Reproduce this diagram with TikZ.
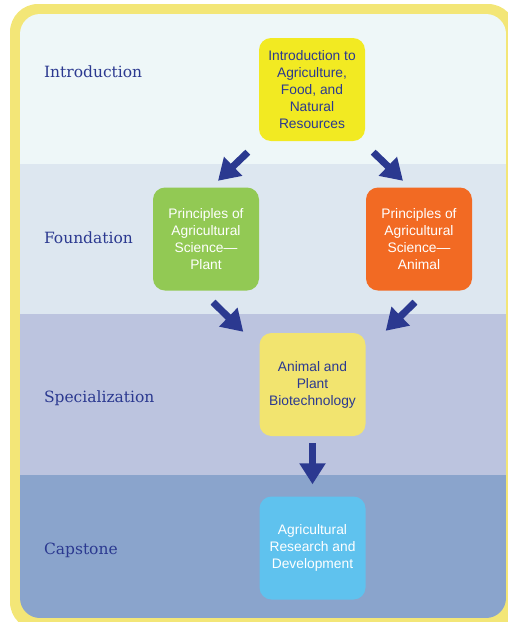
\documentclass[tikz,border=0pt]{standalone}
\usepackage{fontspec}
\setmainfont{DejaVu Serif}
\newfontfamily\boxfont{Liberation Sans}
\usetikzlibrary{arrows.meta}

\definecolor{ink}{HTML}{2B3990}
\definecolor{frame}{HTML}{F3E677}
\definecolor{bandintro}{HTML}{EEF7F8}
\definecolor{bandfound}{HTML}{DDE7F0}
\definecolor{bandspec}{HTML}{BCC4DF}
\definecolor{bandcap}{HTML}{8AA4CC}
\definecolor{introyellow}{HTML}{F2EA22}
\definecolor{plantgreen}{HTML}{92C954}
\definecolor{animalorange}{HTML}{F26A23}
\definecolor{biopale}{HTML}{F2E46F}
\definecolor{researchblue}{HTML}{5FC2EE}

\begin{document}
\begin{tikzpicture}[
              x = 1pt, y = -1pt,
              level/.style = {font=\fontsize{15.5}{18}\selectfont, text=ink, anchor=west},
              course/.style = {rectangle, rounded corners=12pt, minimum width=106pt,
                               minimum height=103pt, inner sep=0pt, align=center,
                               font=\boxfont\fontsize{13.8}{17}\selectfont},
              flow/.style = {-{Triangle[length=21pt,width=25pt]}, line width=7pt, draw=ink}
            ]
            \useasboundingbox (0,0) rectangle (508,622);
            \clip (0,0) rectangle (508,622);
            % frame and bands
            \fill[frame, rounded corners=28pt] (10,4) rectangle (516,630);
            \begin{scope}
              \clip[rounded corners=20pt] (20,14) rectangle (506,618);
              \fill[bandintro] (20,14) rectangle (506,164);
              \fill[bandfound] (20,164) rectangle (506,314);
              \fill[bandspec] (20,314) rectangle (506,475);
              \fill[bandcap] (20,475) rectangle (506,618);
            \end{scope}
            \node[level] (lintro) at (40.5,72) {Introduction};
            \node[level] (lfound) at (40.5,238) {Foundation};
            \node[level] (lspec) at (40.5,398) {Specialization};
            \node[level] (lcap) at (40.5,550) {Capstone};
            % courses
            \node[course, fill=introyellow, text=ink] (intro) at (312,89.5)
              {Introduction to\\Agriculture,\\Food, and\\Natural\\Resources};
            \node[course, fill=plantgreen, text=white] (plant) at (206,239)
              {Principles of\\Agricultural\\Science—\\Plant};
            \node[course, fill=animalorange, text=white] (animal) at (419,239)
              {Principles of\\Agricultural\\Science—\\Animal};
            \node[course, fill=biopale, text=ink] (biotech) at (312.5,384.5)
              {Animal and\\Plant\\Biotechnology};
            \node[course, fill=researchblue, text=white] (research) at (312.5,548)
              {Agricultural\\Research and\\Development};
            % arrows
            \draw[flow] ([xshift=-11pt,yshift=-11pt]intro.south west) -- ([xshift=12pt,yshift=6.5pt]plant.north);
            \draw[flow] ([xshift=8pt,yshift=-11pt]intro.south east) -- ([xshift=-16pt,yshift=6.5pt]animal.north);
            \draw[flow] ([xshift=7pt,yshift=-11.5pt]plant.south) -- ([xshift=-16pt,yshift=1pt]biotech.north west);
            \draw[flow] ([xshift=-4pt,yshift=-11.5pt]animal.south) -- ([xshift=20pt,yshift=2pt]biotech.north east);
            \draw[flow] ([yshift=-7pt]biotech.south) -- ([yshift=12pt]research.north);
          \end{tikzpicture}
\end{document}
